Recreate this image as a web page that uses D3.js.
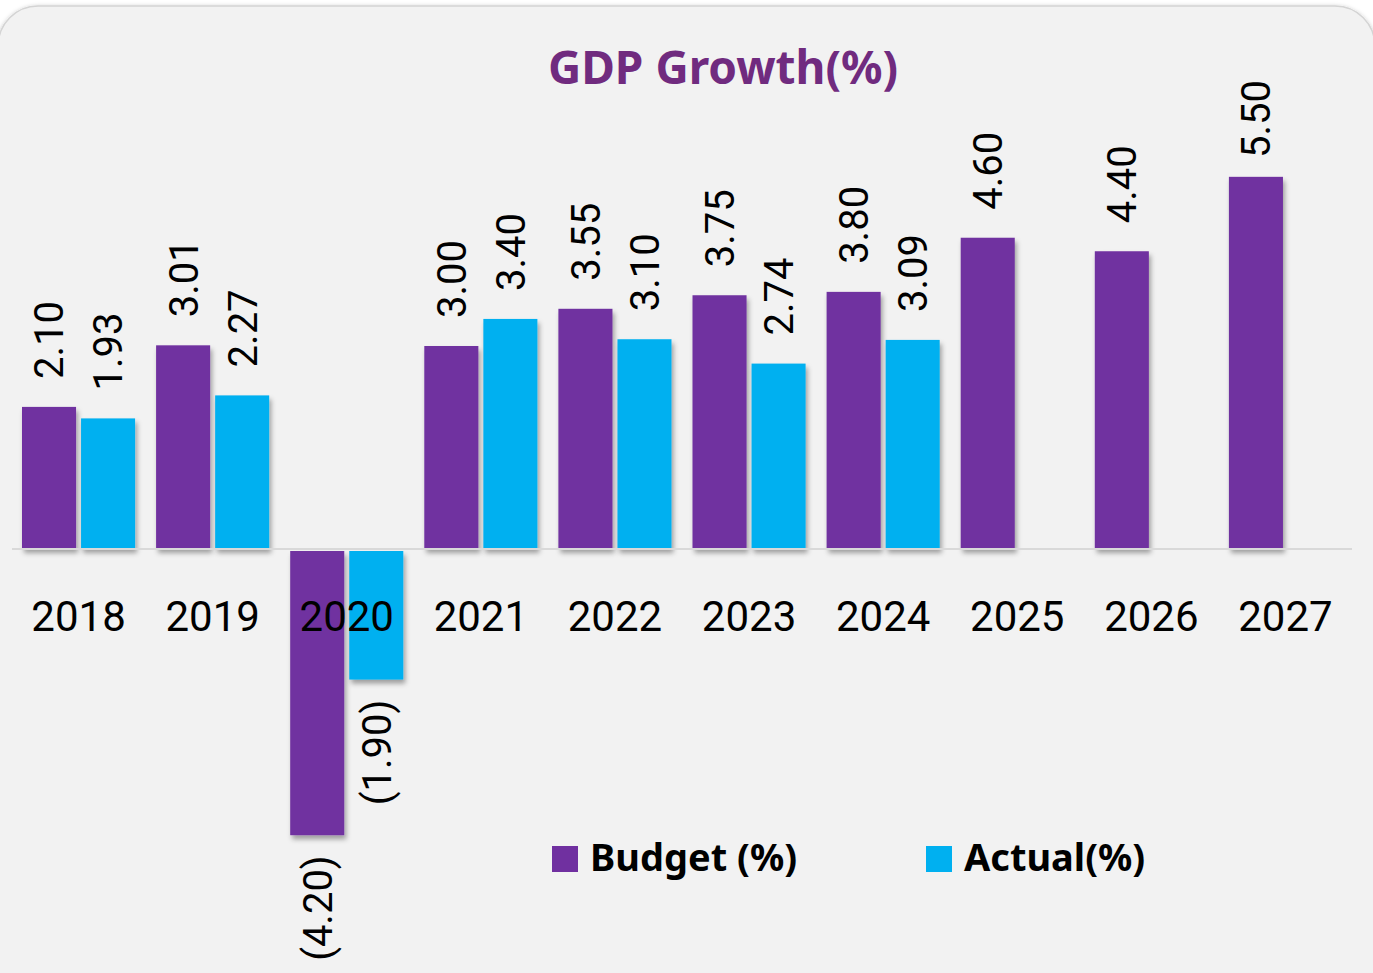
<html>
<head>
<script src="https://d3js.org/d3.v7.min.js"></script>
<style>
  body { margin: 0; background: #ffffff; }
  .cat { font-family: Roboto, Arial; font-size: 42px; fill: #000; }
  .val { font-family: Roboto, Arial; font-size: 40px; fill: #000; }
  .title { font-family: "Noto Sans", Arial; font-weight: bold; font-size: 46px; fill: #702b7f; }
  .legend { font-family: "Noto Sans", Arial; font-weight: bold; font-size: 38px; fill: #000; }
</style>
</head>
<body>
<svg id="chart" width="1373" height="973"></svg>
<script>
const years = ["2018","2019","2020","2021","2022","2023","2024","2025","2026","2027"];
const budget = [2.10, 3.01, -4.20, 3.00, 3.55, 3.75, 3.80, 4.60, 4.40, 5.50];
const actual = [1.93, 2.27, -1.90, 3.40, 3.10, 2.74, 3.09, null, null, null];
const seriesNames = ["Budget (%)", "Actual(%)"];
const colors = ["#7030a0", "#00b0f0"];

const svg = d3.select("svg#chart");
const defs = svg.append("defs");

let cardShadow = defs.append("filter").attr("id","cardShadow")
  .attr("x","-5%").attr("y","-5%").attr("width","110%").attr("height","110%");
cardShadow.append("feDropShadow").attr("dx",0).attr("dy",1).attr("stdDeviation",2)
  .attr("flood-color","#000").attr("flood-opacity",0.25);

let barShadow = defs.append("filter").attr("id","barShadow")
  .attr("x","-20%").attr("y","-10%").attr("width","150%").attr("height","130%");
barShadow.append("feDropShadow").attr("dx",2).attr("dy",4).attr("stdDeviation",2.5)
  .attr("flood-color","#000").attr("flood-opacity",0.35);

// card background
svg.append("rect")
  .attr("x",-2).attr("y",6).attr("width",1377).attr("height",1010).attr("rx",40)
  .attr("fill","#f2f2f2").attr("stroke","#d4d4d4").attr("stroke-width",1.5)
  .attr("filter","url(#cardShadow)");

const x0 = d3.scaleBand().domain(years).range([12, 1352])
  .paddingInner(21/134).paddingOuter(10/134);
const x1 = d3.scaleBand().domain(seriesNames).range([0, x0.bandwidth()]).paddingInner(5/59);
const y = d3.scaleLinear().domain([-6, 6]).range([955, 143]);

const rows = years.map((yr, i) => ({year: yr, values: [budget[i], actual[i]]}));

const fmt = v => v < 0 ? "(" + d3.format(".2f")(-v) + ")" : d3.format(".2f")(v);

// bars
let bars = svg.append("g").attr("id","bars");
rows.forEach(r => {
  r.values.forEach((v, j) => {
    if (v === null) return;
    bars.append("rect")
      .attr("x", x0(r.year) + x1(seriesNames[j]))
      .attr("y", v >= 0 ? y(v) : y(0) + 2)
      .attr("width", x1.bandwidth())
      .attr("height", Math.abs(y(v) - y(0)))
      .attr("fill", colors[j])
      .attr("filter","url(#barShadow)");
  });
});

// zero line
svg.append("line")
  .attr("x1", x0.range()[0]).attr("x2", x0.range()[1])
  .attr("y1", y(0)).attr("y2", y(0))
  .attr("stroke","#d9d9d9").attr("stroke-width",2);

// value labels
let labels = svg.append("g").attr("id","labels");
rows.forEach(r => {
  r.values.forEach((v, j) => {
    if (v === null) return;
    const cx = x0(r.year) + x1(seriesNames[j]) + x1.bandwidth()/2;
    let t = labels.append("text").attr("class","val")
      .attr("dy","0.36em")
      .text(fmt(v));
    const len = t.node().getComputedTextLength();
    if (v >= 0) {
      const ay = Math.max(y(v) - 28, 80 + len);
      t.attr("text-anchor","start").attr("transform","translate(" + cx + "," + ay + ") rotate(-90)");
    } else {
      const ay = y(v) + 2 + 20;
      t.attr("text-anchor","end").attr("transform","translate(" + cx + "," + ay + ") rotate(-90)");
    }
  });
});

// category labels
svg.append("g").selectAll("text").data(years).join("text")
  .attr("class","cat")
  .attr("x", d => x0(d) + x0.bandwidth()/2)
  .attr("y", 631)
  .attr("text-anchor","middle")
  .text(d => d);

// title
svg.append("text").attr("class","title")
  .attr("x", 723).attr("y", 84).attr("text-anchor","middle")
  .text("GDP Growth(%)");

// legend
const legendX = [552, 926];
seriesNames.forEach((s, i) => {
  svg.append("rect").attr("x", legendX[i]).attr("y", 846).attr("width", 26).attr("height", 26)
    .attr("fill", colors[i]);
  svg.append("text").attr("class","legend")
    .attr("x", legendX[i] + 38).attr("y", 871)
    .text(s);
});
</script>
</body>
</html>
